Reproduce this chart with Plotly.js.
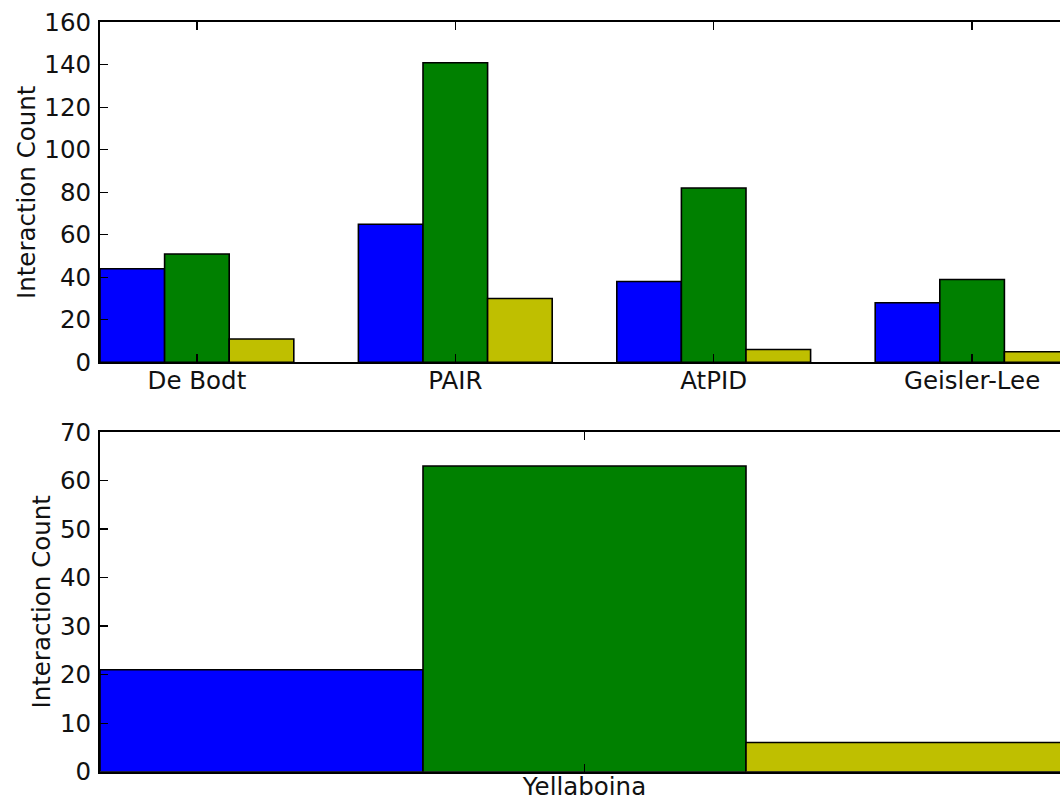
<!DOCTYPE html>
<html>
<head>
<meta charset="utf-8">
<script src="https://cdn.plot.ly/plotly-3.0.1.min.js"></script>
<style>
html, body { margin: 0; padding: 0; overflow: hidden; background: #fff; }
#chart { width: 1080px; height: 800px; }
</style>
</head>
<body>
<div id="chart"></div>
<script>
// Top panel
var topCategories = ["De Bodt", "PAIR", "AtPID", "Geisler-Lee"];
var topBlue = [44, 65, 38, 28];
var topGreen = [51, 141, 82, 39];
var topYellow = [11, 30, 6, 5];

// Bottom panel
var bottomCategories = ["Yellaboina"];
var bottomBlue = [21];
var bottomGreen = [63];
var bottomYellow = [6];

var yTitle = "Interaction Count";
var colors = ["#0000ff", "#008000", "#bfbf00"];
var FONT = "DejaVu Sans, sans-serif";
var FS = 24.5;

function bar(x, y, color, xa, ya) {
  return {
    type: "bar", x: x, y: y, xaxis: xa, yaxis: ya,
    marker: { color: color, line: { color: "#000000", width: 1.6 } },
    showlegend: false, hoverinfo: "skip"
  };
}

var data = [
  bar(topCategories, topBlue, colors[0], "x", "y"),
  bar(topCategories, topGreen, colors[1], "x", "y"),
  bar(topCategories, topYellow, colors[2], "x", "y"),
  bar(bottomCategories, bottomBlue, colors[0], "x2", "y2"),
  bar(bottomCategories, bottomGreen, colors[1], "x2", "y2"),
  bar(bottomCategories, bottomYellow, colors[2], "x2", "y2")
];

var axisCommon = {
  showline: true, linecolor: "#000000", linewidth: 2, mirror: "ticks",
  ticks: "inside", ticklen: 8, tickwidth: 1.2, tickcolor: "#000000",
  showgrid: false, zeroline: false,
  tickfont: { family: FONT, size: FS, color: "#111111" }
};

function ax(extra) { return Object.assign({}, axisCommon, extra); }

var layout = {
  width: 1080, height: 800,
  margin: { l: 100, r: 11, t: 0, b: 0 },
  paper_bgcolor: "#ffffff", plot_bgcolor: "#ffffff",
  barmode: "group", bargap: 0.25, bargroupgap: 0,
  font: { family: FONT, size: FS, color: "#111111" },
  xaxis: ax({ domain: [0, 1], anchor: "y", type: "category", range: [-0.375, 3.375], ticklabelstandoff: -5 }),
  yaxis: ax({ domain: [0.5471, 0.9721], anchor: "x", range: [0, 160], dtick: 20, tick0: 0,
    ticklabelstandoff: 2,
    title: { text: yTitle, font: { family: FONT, size: FS, color: "#111111" }, standoff: 2 } }),
  xaxis2: ax({ domain: [0, 1], anchor: "y2", type: "category", range: [-0.375, 0.375], ticklabelstandoff: -8 }),
  yaxis2: ax({ domain: [0.0354, 0.46], anchor: "x2", range: [0, 70], dtick: 10, tick0: 0,
    ticklabelstandoff: 2,
    title: { text: yTitle, font: { family: FONT, size: FS, color: "#111111" }, standoff: 2 } })
};

Plotly.newPlot("chart", data, layout, { staticPlot: true, displayModeBar: false });
</script>
</body>
</html>
